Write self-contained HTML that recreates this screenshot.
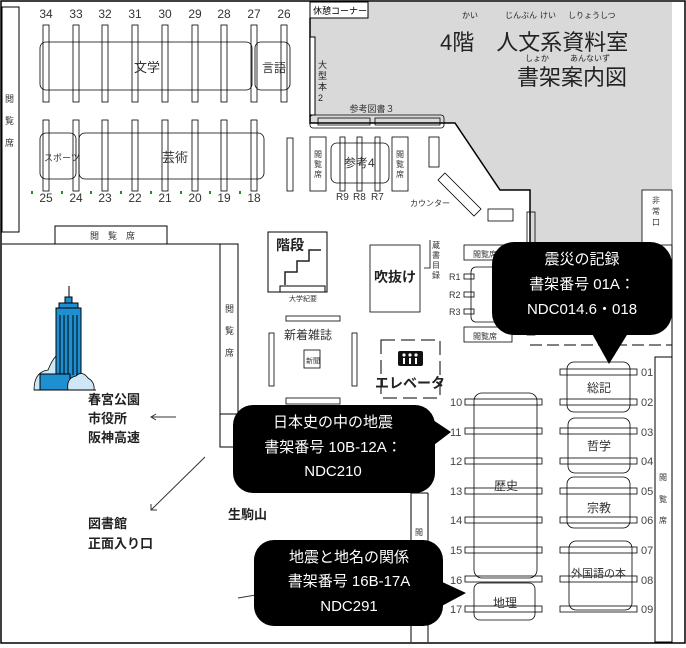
<!DOCTYPE html>
<html><head><meta charset="utf-8"><style>
html,body{margin:0;padding:0;background:#fff}
svg{display:block;font-family:"Liberation Sans","Noto Sans CJK JP",sans-serif}
</style></head><body>
<svg width="686" height="648" viewBox="0 0 686 648" xmlns="http://www.w3.org/2000/svg">
<rect x="0" y="0" width="686" height="648" fill="#fff"/>
<polygon points="310,18 368,18 368,2 672,2 672,190 642,190 642,245 530,245 530,190 500,190 455,123 310,123" fill="#d9d9d9"/>
<polyline points="310,18 310,123 455,123 500,190 530,190 530,245" fill="none" stroke="#000" stroke-width="1.5"/>
<rect x="310" y="2" width="58" height="16" fill="#fff" stroke="#000" stroke-width="1"/>
<text x="313" y="14" font-size="9">休憩コーナー</text>
<rect x="310" y="37" width="5" height="78" fill="#fff" stroke="#000"/>
<g font-size="9" fill="#222"><text x="318" y="68">大</text><text x="318" y="79">型</text><text x="318" y="90">本</text><text x="318" y="101">2</text></g>
<rect x="1" y="1" width="684" height="642" fill="none" stroke="#000" stroke-width="1.5"/>
<g fill="#222">
<text x="440" y="50" font-size="22">4階　人文系資料室</text>
<text x="517" y="85" font-size="22">書架案内図</text>
<g font-size="8"><text x="462" y="18">かい</text><text x="505" y="18">じんぶん</text><text x="540" y="18">けい</text><text x="568" y="18">しりょうしつ</text>
<text x="525" y="61">しょか</text><text x="570" y="61">あんないず</text></g>
</g>
<rect x="2" y="7" width="17" height="225" fill="none" stroke="#000"/>
<g font-size="9" fill="#333"><text x="5" y="102">閲</text><text x="5" y="124">覧</text><text x="5" y="146">席</text></g>
<g font-size="12" fill="#333" text-anchor="middle">
<text x="46" y="18">34</text><text x="76" y="18">33</text><text x="105" y="18">32</text><text x="135" y="18">31</text><text x="165" y="18">30</text><text x="195" y="18">29</text><text x="224" y="18">28</text><text x="254" y="18">27</text><text x="284" y="18">26</text>
<text x="46" y="202">25</text><text x="76" y="202">24</text><text x="105" y="202">23</text><text x="135" y="202">22</text><text x="165" y="202">21</text><text x="195" y="202">20</text><text x="224" y="202">19</text><text x="254" y="202">18</text>
</g>
<g fill="#2a8a2a"><rect x="31" y="191" width="2" height="3"/><rect x="61" y="191" width="2" height="3"/><rect x="90" y="191" width="2" height="3"/><rect x="120" y="191" width="2" height="3"/><rect x="150" y="191" width="2" height="3"/><rect x="180" y="191" width="2" height="3"/><rect x="209" y="191" width="2" height="3"/><rect x="239" y="191" width="2" height="3"/></g>
<g fill="none" stroke="#000" stroke-width="0.8">
<rect x="43" y="25" width="6" height="77"/><rect x="73" y="25" width="6" height="77"/><rect x="102" y="25" width="6" height="77"/><rect x="132" y="25" width="6" height="77"/><rect x="162" y="25" width="6" height="77"/><rect x="192" y="25" width="6" height="77"/><rect x="221" y="25" width="6" height="77"/><rect x="251" y="25" width="6" height="77"/><rect x="281" y="25" width="6" height="77"/>
<rect x="43" y="120" width="6" height="71"/><rect x="73" y="120" width="6" height="71"/><rect x="102" y="120" width="6" height="71"/><rect x="132" y="120" width="6" height="71"/><rect x="162" y="120" width="6" height="71"/><rect x="192" y="120" width="6" height="71"/><rect x="221" y="120" width="6" height="71"/><rect x="251" y="120" width="6" height="71"/>
<rect x="40" y="42" width="212" height="48" rx="6"/><rect x="255" y="42" width="35" height="48" rx="6"/>
<rect x="40" y="133" width="36" height="46" rx="6"/><rect x="79" y="133" width="185" height="46" rx="6"/>
<rect x="287" y="138" width="6" height="53"/>
</g>
<g fill="#333"><text x="134" y="72" font-size="13">文学</text><text x="262" y="72" font-size="12">言語</text><text x="44" y="161" font-size="9">スポーツ</text><text x="162" y="162" font-size="13">芸術</text></g>
<rect x="55" y="226" width="112" height="18" fill="none" stroke="#000"/>
<text x="90" y="239" font-size="9" fill="#333">閲　覧　席</text>
<g fill="none" stroke="#000" stroke-width="0.8">
<rect x="310" y="115" width="134" height="13" rx="3"/><rect x="318" y="118" width="52" height="7"/><rect x="375" y="118" width="65" height="7"/>
<rect x="310" y="137" width="16" height="54"/><rect x="392" y="137" width="16" height="54"/>
<rect x="331" y="143" width="58" height="40" rx="6"/>
<rect x="340" y="137" width="5" height="54"/><rect x="357" y="137" width="5" height="54"/><rect x="375" y="137" width="5" height="54"/>
<rect x="429" y="137" width="10" height="30"/>
<polygon points="445,173 481,209 474,216 438,180"/>
<rect x="488" y="209" width="25" height="12"/>
<rect x="527" y="212" width="8" height="123"/>
<rect x="642" y="190" width="30" height="55"/>
</g>
<text x="372" y="112" font-size="9" fill="#333" text-anchor="middle">参考図書３</text>
<g font-size="8" fill="#333"><text x="314" y="157">閲</text><text x="314" y="167">覧</text><text x="314" y="177">席</text><text x="396" y="157">閲</text><text x="396" y="167">覧</text><text x="396" y="177">席</text>
<text x="652" y="203">非</text><text x="652" y="214">常</text><text x="652" y="225">口</text></g>
<text x="344" y="167" font-size="12" fill="#333">参考4</text>
<g font-size="10" fill="#333"><text x="336" y="200">R9</text><text x="353" y="200">R8</text><text x="371" y="200">R7</text></g>
<text x="410" y="206" font-size="8" fill="#333">カウンター</text>
<rect x="268" y="232" width="59" height="60" fill="none" stroke="#000"/>
<text x="276" y="250" font-size="14" font-weight="bold" fill="#222">階段</text>
<polyline points="285,285 285,272 297,272 297,261 309,261 309,250 321,250" fill="none" stroke="#222" stroke-width="1.5"/>
<rect x="280" y="286" width="45" height="6" fill="none" stroke="#000"/>
<text x="289" y="301" font-size="7" fill="#333">大学紀要</text>
<line x1="2" y1="244" x2="238" y2="244" stroke="#000"/>
<rect x="220" y="244" width="18" height="170" fill="none" stroke="#000"/>
<polyline points="220,414 220,447 238,447" fill="none" stroke="#000"/>
<g font-size="9" fill="#333"><text x="225" y="312">閲</text><text x="225" y="334">覧</text><text x="225" y="356">席</text></g>
<g fill="none" stroke="#000" stroke-width="0.8">
<rect x="286" y="316" width="54" height="5"/><rect x="269" y="333" width="5" height="53"/><rect x="352" y="333" width="5" height="53"/>
<rect x="304" y="350" width="16" height="18"/><rect x="286" y="398" width="54" height="6"/>
<rect x="370" y="245" width="50" height="67"/>
<rect x="464" y="245" width="48" height="15"/><rect x="464" y="327" width="48" height="15"/>
<rect x="471" y="267" width="40" height="55" rx="5"/>
<rect x="464" y="274" width="10" height="5"/><rect x="464" y="292" width="10" height="5"/><rect x="464" y="309" width="10" height="5"/>
<polyline points="430,240 430,268 424,268"/>
</g>
<text x="284" y="339" font-size="12" fill="#333">新着雑誌</text>
<text x="306" y="363" font-size="7" fill="#333">新聞</text>
<text x="374" y="282" font-size="14" font-weight="bold" fill="#222">吹抜け</text>
<g font-size="8" fill="#333"><text x="432" y="248">蔵</text><text x="432" y="258">書</text><text x="432" y="268">目</text><text x="432" y="278">録</text>
<text x="473" y="257">閲覧席</text><text x="473" y="339">閲覧席</text></g>
<g font-size="9" fill="#333"><text x="449" y="280">R1</text><text x="449" y="298">R2</text><text x="449" y="315">R3</text></g>
<rect x="381" y="340" width="59" height="58" fill="none" stroke="#000" stroke-dasharray="14,6"/>
<rect x="398" y="351" width="25" height="15" rx="2" fill="#111"/>
<g fill="#fff"><circle cx="404" cy="355" r="1.6"/><circle cx="410" cy="355" r="1.6"/><circle cx="416" cy="355" r="1.6"/><rect x="403" y="358" width="2" height="6"/><rect x="409" y="358" width="2" height="6"/><rect x="415" y="358" width="2" height="6"/></g>
<text x="375" y="388" font-size="14" font-weight="bold" fill="#222">エレベータ</text>
<line x1="530" y1="345" x2="672" y2="345" stroke="#000" stroke-dasharray="12,5"/>
<line x1="672" y1="245" x2="672" y2="642" stroke="#000"/>
<rect x="655" y="357" width="17" height="285" fill="none" stroke="#000"/>
<g font-size="8" fill="#333"><text x="659" y="480">閲</text><text x="659" y="502">覧</text><text x="659" y="523">席</text><text x="415" y="535">閲</text></g>
<line x1="411" y1="493" x2="411" y2="642" stroke="#000"/>
<line x1="428" y1="493" x2="428" y2="642" stroke="#000"/>
<line x1="411" y1="493" x2="428" y2="493" stroke="#000"/>
<g fill="none" stroke="#000" stroke-width="0.8">
<rect x="560" y="369" width="77" height="6"/><rect x="560" y="399" width="77" height="6"/><rect x="560" y="428" width="77" height="6"/><rect x="560" y="458" width="77" height="6"/><rect x="560" y="488" width="77" height="6"/><rect x="560" y="517" width="77" height="6"/><rect x="560" y="547" width="77" height="6"/><rect x="560" y="576" width="77" height="6"/><rect x="560" y="606" width="77" height="6"/>
<rect x="465" y="399" width="77" height="6"/><rect x="465" y="428" width="77" height="6"/><rect x="465" y="458" width="77" height="6"/><rect x="465" y="488" width="77" height="6"/><rect x="465" y="517" width="77" height="6"/><rect x="465" y="547" width="77" height="6"/><rect x="465" y="576" width="77" height="6"/><rect x="465" y="606" width="77" height="6"/>
<rect x="567" y="362" width="63" height="50" rx="7"/><rect x="568" y="418" width="62" height="55" rx="7"/><rect x="567" y="477" width="63" height="51" rx="7"/><rect x="569" y="541" width="63" height="69" rx="7"/>
<rect x="474" y="393" width="63" height="185" rx="8"/><rect x="474" y="583" width="61" height="37" rx="6"/>
</g>
<g font-size="11" fill="#444"><text x="641" y="376">01</text><text x="641" y="406">02</text><text x="641" y="436">03</text><text x="641" y="465">04</text><text x="641" y="495">05</text><text x="641" y="524">06</text><text x="641" y="554">07</text><text x="641" y="584">08</text><text x="641" y="613">09</text>
<text x="450" y="406">10</text><text x="450" y="436">11</text><text x="450" y="465">12</text><text x="450" y="495">13</text><text x="450" y="524">14</text><text x="450" y="554">15</text><text x="450" y="584">16</text><text x="450" y="613">17</text></g>
<g font-size="12" fill="#333"><text x="587" y="392">総記</text><text x="587" y="450">哲学</text><text x="587" y="512">宗教</text><text x="571" y="577" font-size="11">外国語の本</text><text x="494" y="490">歴史</text><text x="493" y="607">地理</text></g>
<g>
<path d="M34,390 Q34,372 48,370 Q52,360 56,356 L56,390 Z" fill="#cfe6f5" stroke="#000" stroke-width="0.8"/>
<rect x="56" y="308" width="25" height="82" fill="#1e8fd0" stroke="#000"/>
<rect x="59" y="303" width="19" height="5" fill="#1e8fd0" stroke="#000"/>
<rect x="65" y="297" width="7" height="6" fill="#1e8fd0" stroke="#000"/>
<line x1="69" y1="297" x2="69" y2="286" stroke="#000"/>
<g stroke="#000" stroke-width="1"><line x1="60" y1="315" x2="60" y2="375"/><line x1="64" y1="315" x2="64" y2="375"/><line x1="68" y1="315" x2="68" y2="375"/><line x1="73" y1="315" x2="73" y2="375"/><line x1="77" y1="315" x2="77" y2="375"/></g>
<rect x="40" y="374" width="30" height="16" fill="#1e8fd0" stroke="#000"/>
<path d="M68,390 Q66,378 76,376 Q82,370 88,378 Q95,382 94,390 Z" fill="#cfe6f5" stroke="#000" stroke-width="0.8"/>
<line x1="34" y1="390" x2="96" y2="390" stroke="#000"/>
</g>
<g font-size="13" font-weight="bold" fill="#222"><text x="88" y="404">春宮公園</text><text x="88" y="423">市役所</text><text x="88" y="442">阪神高速</text><text x="88" y="528">図書館</text><text x="88" y="548">正面入り口</text><text x="228" y="519">生駒山</text></g>
<line x1="151" y1="417" x2="176" y2="417" stroke="#333"/><polyline points="156,414 151,417 156,420" fill="none" stroke="#333"/>
<line x1="205" y1="457" x2="151" y2="510" stroke="#333"/><polyline points="151,504 151,510 157,510" fill="none" stroke="#333"/>
<line x1="238" y1="598" x2="256" y2="595" stroke="#333"/>
<g fill="#000">
<rect x="492" y="242" width="180" height="93" rx="22"/>
<polygon points="590,330 630,330 609,364"/>
<rect x="233" y="405" width="202" height="88" rx="20"/>
<polygon points="430,418 430,448 451,432"/>
<rect x="254" y="540" width="189" height="86" rx="20"/>
<polygon points="438,580 438,608 466,593"/>
</g>
<g fill="#fff" font-size="15" text-anchor="middle">
<text x="582" y="264">震災の記録</text><text x="582" y="289">書架番号 01A：</text><text x="582" y="314">NDC014.6・018</text>
<text x="333" y="427">日本史の中の地震</text><text x="333" y="452">書架番号 10B-12A：</text><text x="333" y="476">NDC210</text>
<text x="349" y="562">地震と地名の関係</text><text x="349" y="586">書架番号 16B-17A</text><text x="349" y="611">NDC291</text>
</g>
</svg>
</body></html>
